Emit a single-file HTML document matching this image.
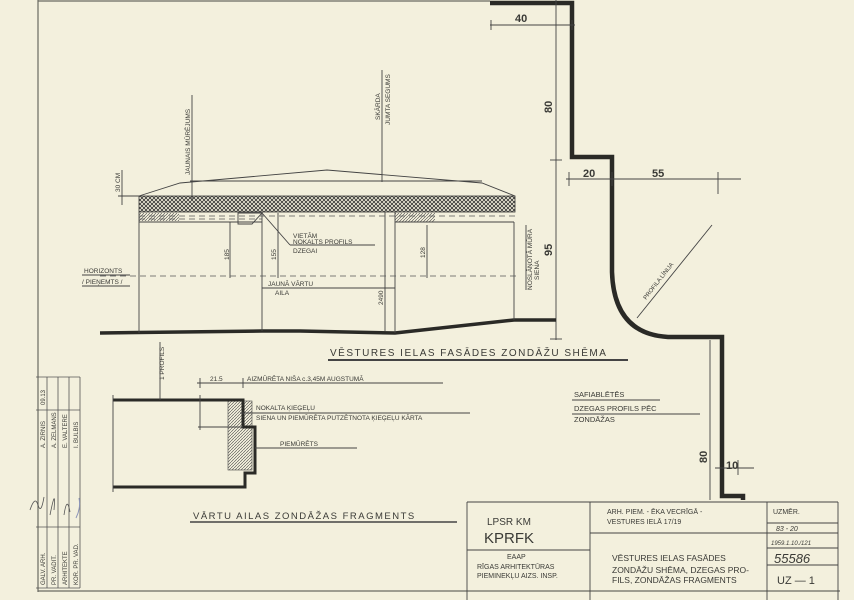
<!DOCTYPE html>
<html><head><meta charset="utf-8"><style>
html,body{margin:0;padding:0;background:#f3f0dd;}
svg{display:block}
text{font-family:"Liberation Sans",sans-serif;fill:#3a3a36;}
</style></head><body>
<svg width="854" height="600" viewBox="0 0 854 600" xmlns="http://www.w3.org/2000/svg">
<defs>
<pattern id="xh" width="4" height="4" patternUnits="userSpaceOnUse">
<path d="M0,0 L4,4 M4,0 L0,4" stroke="#333" stroke-width="0.8"/>
</pattern>
<pattern id="dh" width="3" height="3" patternUnits="userSpaceOnUse">
<path d="M0,3 L3,0" stroke="#444" stroke-width="0.6"/>
</pattern>
</defs>
<rect width="854" height="600" fill="#f3f0dd"/>
<!-- frame -->
<g stroke="#6a6a62" stroke-width="1.2" fill="none">
<line x1="38" y1="0" x2="38" y2="592"/>
<line x1="38" y1="1" x2="490" y2="1"/>
<line x1="38" y1="591" x2="840" y2="591"/>
</g>

<!-- big profile -->
<path d="M490,3 L572,3 L572,157 L612,157 L612,272 Q614,334 668,337 L722,337 L722,496 L743,496 L743,500" fill="none" stroke="#2a2a26" stroke-width="4.5"/>
<g stroke="#444" stroke-width="0.9" fill="none">
<line x1="490" y1="25" x2="575" y2="25"/><line x1="491" y1="20" x2="491" y2="30"/><line x1="572" y1="20" x2="572" y2="30"/>
<line x1="556" y1="0" x2="556" y2="340"/>
<line x1="550" y1="160" x2="562" y2="160"/><line x1="550" y1="339" x2="562" y2="339"/>
<line x1="566" y1="179" x2="741" y2="179"/><line x1="569" y1="172" x2="569" y2="186"/><line x1="612" y1="172" x2="612" y2="186"/><line x1="718" y1="172" x2="718" y2="194"/>
<line x1="637" y1="318" x2="712" y2="225"/>
<line x1="710" y1="340" x2="710" y2="500"/>
<line x1="715" y1="468" x2="754" y2="468"/><line x1="738" y1="460" x2="738" y2="475"/>
</g>
<g font-weight="bold" font-size="11">
<text x="515" y="22" fill="#2a2a26">40</text>
<text x="552" y="113" transform="rotate(-90 552 113)" fill="#2a2a26">80</text>
<text x="552" y="256" transform="rotate(-90 552 256)" fill="#2a2a26">95</text>
<text x="583" y="177" fill="#2a2a26">20</text>
<text x="652" y="177" fill="#2a2a26">55</text>
<text x="707" y="463" transform="rotate(-90 707 463)" fill="#2a2a26">80</text>
<text x="726" y="469" fill="#2a2a26">10</text>
</g>
<text x="646" y="300" font-size="6" transform="rotate(-52 646 300)">PROFILA LĪNIJA</text>
<g font-size="7.5">
<text x="574" y="397">SAFIABLĒTĒS</text>
<text x="574" y="411">DZEGAS PROFILS PĒC</text>
<text x="574" y="422">ZONDĀŽAS</text>
</g>
<g stroke="#444" stroke-width="0.9"><line x1="572" y1="400" x2="660" y2="400"/><line x1="572" y1="414" x2="700" y2="414"/></g>

<!-- elevation -->
<path d="M100,333 L262,331 L300,331 L395,333 L514,320 L556,320" fill="none" stroke="#2a2a26" stroke-width="3.5"/>
<rect x="139" y="196" width="376" height="16" fill="url(#xh)" stroke="#333" stroke-width="0.8"/>
<g stroke="#444" stroke-width="0.9" fill="none">
<path d="M139,196 L180,183 L327,170 L482,183 L515,196"/>
<line x1="190" y1="181" x2="482" y2="181"/>
<line x1="139" y1="212" x2="139" y2="333"/>
<line x1="262" y1="213" x2="262" y2="331"/>
<line x1="385" y1="212" x2="385" y2="331"/>
<line x1="395" y1="212" x2="395" y2="333"/>
<line x1="514" y1="222" x2="514" y2="320"/>
<line x1="139" y1="222" x2="262" y2="222"/>
<line x1="395" y1="222" x2="514" y2="222"/>
<path d="M238,213 L262,213 L252,224 L238,224 Z"/>
<line x1="262" y1="213" x2="290" y2="245"/><line x1="290" y1="245" x2="375" y2="245"/>
<line x1="192" y1="95" x2="192" y2="200"/>
<line x1="382" y1="70" x2="382" y2="182"/>
<line x1="122" y1="170" x2="122" y2="205"/><line x1="118" y1="196" x2="140" y2="196"/>
<line x1="230" y1="222" x2="230" y2="278"/>
<line x1="278" y1="213" x2="278" y2="278"/>
<line x1="427" y1="225" x2="427" y2="278"/>
<line x1="262" y1="288" x2="395" y2="288"/>
<line x1="526" y1="225" x2="526" y2="290"/>
<line x1="82" y1="286" x2="130" y2="286"/>
<line x1="82" y1="275" x2="130" y2="275"/>
</g>
<g stroke="#555" stroke-width="0.7" stroke-dasharray="6,4" fill="none">
<line x1="100" y1="276" x2="520" y2="276"/>
<line x1="139" y1="216" x2="515" y2="216"/>
<line x1="139" y1="219" x2="262" y2="219"/>
</g>
<rect x="395" y="213" width="40" height="9" fill="url(#dh)"/>
<rect x="139" y="213" width="40" height="8" fill="url(#dh)"/>
<g font-size="6.5">
<text x="190" y="175" transform="rotate(-90 190 175)">JAUNAIS MŪRĒJUMS</text>
<text x="380" y="120" transform="rotate(-90 380 120)">SKĀRDA</text>
<text x="390" y="125" transform="rotate(-90 390 125)">JUMTA SEGUMS</text>
<text x="120" y="192" transform="rotate(-90 120 192)">30 CM</text>
<text x="229" y="260" transform="rotate(-90 229 260)">185</text>
<text x="276" y="260" transform="rotate(-90 276 260)">155</text>
<text x="425" y="258" transform="rotate(-90 425 258)">128</text>
<text x="383" y="305" transform="rotate(-90 383 305)">2490</text>
<text x="293" y="238">VIETĀM</text>
<text x="293" y="244">NOKALTS PROFILS</text>
<text x="293" y="253">DZEGAI</text>
<text x="268" y="286">JAUNĀ VĀRTU</text>
<text x="275" y="295">AILA</text>
<text x="84" y="273">HORIZONTS</text>
<text x="82" y="284">/ PIEŅEMTS /</text>
<text x="532" y="290" transform="rotate(-90 532 290)">NOSLĀŅOTĀ MŪRA</text>
<text x="539" y="280" transform="rotate(-90 539 280)">SIENA</text>
</g>
<text x="330" y="356" font-size="10" letter-spacing="1.5">VĒSTURES IELAS FASĀDES ZONDĀŽU SHĒMA</text>
<line x1="328" y1="360" x2="628" y2="360" stroke="#444" stroke-width="2"/>

<!-- fragment -->
<rect x="228" y="401" width="24" height="69" fill="url(#dh)" stroke="#444" stroke-width="0.6"/>
<path d="M113,400 L243,400 L243,427 L255,427 L255,473 L245,473 L245,487 L113,487" fill="none" stroke="#2a2a26" stroke-width="3"/>
<g stroke="#444" stroke-width="0.9" fill="none">
<line x1="113" y1="395" x2="113" y2="492"/>
<line x1="160" y1="342" x2="160" y2="400"/>
<line x1="197" y1="383" x2="443" y2="383"/><line x1="200" y1="378" x2="200" y2="388"/><line x1="243" y1="378" x2="243" y2="388"/>
<line x1="200" y1="395" x2="200" y2="430"/><line x1="198" y1="427" x2="243" y2="427"/>
<line x1="240" y1="413" x2="470" y2="413"/>
<line x1="255" y1="448" x2="357" y2="448"/>
</g>
<g font-size="6.5">
<text x="164" y="380" transform="rotate(-90 164 380)">1 PROFILS</text>
<text x="210" y="381">21.5</text>
<text x="247" y="381">AIZMŪRĒTA NIŠA c.3,45M AUGSTUMĀ</text>
<text x="256" y="410">NOKALTA ĶIEĢEĻU</text>
<text x="256" y="420">SIENA UN PIEMŪRĒTA PUTZĒTNOTA ĶIEĢEĻU KĀRTA</text>
<text x="280" y="446">PIEMŪRĒTS</text>
</g>
<text x="193" y="519" font-size="9.5" letter-spacing="1.5">VĀRTU AILAS ZONDĀŽAS FRAGMENTS</text>
<line x1="190" y1="522" x2="457" y2="522" stroke="#444" stroke-width="1.5"/>

<!-- left table -->
<g stroke="#555" stroke-width="0.8" fill="none">
<line x1="36" y1="377" x2="80" y2="377"/>
<line x1="36" y1="588" x2="80" y2="588"/>
<line x1="47" y1="377" x2="47" y2="588"/>
<line x1="58" y1="377" x2="58" y2="588"/>
<line x1="69" y1="377" x2="69" y2="588"/>
<line x1="80" y1="377" x2="80" y2="588"/>
<line x1="36" y1="410" x2="80" y2="410"/>
<line x1="36" y1="527" x2="80" y2="527"/>
</g>
<g font-size="6">
<text x="45" y="585" transform="rotate(-90 45 585)">GALV. ARH.</text>
<text x="56" y="585" transform="rotate(-90 56 585)">PR. VADIT.</text>
<text x="67" y="585" transform="rotate(-90 67 585)">ARHITEKTE</text>
<text x="78" y="585" transform="rotate(-90 78 585)">KOR. PR. VAD.</text>
<text x="45" y="448" transform="rotate(-90 45 448)">A. ZIRNIS</text>
<text x="56" y="448" transform="rotate(-90 56 448)">A. ZELMANS</text>
<text x="67" y="448" transform="rotate(-90 67 448)">E. VALTERE</text>
<text x="78" y="448" transform="rotate(-90 78 448)">I. BULBIS</text>
<text x="45" y="405" transform="rotate(-90 45 405)">09.13</text>
</g>
<path d="M30,510 q5,-15 8,-5 q3,10 6,-8 M50,515 q6,-30 4,-5 M64,515 q3,-20 6,-3" stroke="#555" stroke-width="0.8" fill="none"/>
<path d="M76,518 q5,-10 3,-20" stroke="#8b93b8" stroke-width="1" fill="none"/>

<!-- title block -->
<g stroke="#444" stroke-width="0.9" fill="none">
<line x1="467" y1="502" x2="838" y2="502"/>
<line x1="467" y1="502" x2="467" y2="600"/>
<line x1="590" y1="502" x2="590" y2="600"/>
<line x1="767" y1="502" x2="767" y2="600"/>
<line x1="838" y1="502" x2="838" y2="600"/>
<line x1="467" y1="550" x2="590" y2="550"/>
<line x1="590" y1="533" x2="838" y2="533"/>
<line x1="767" y1="523" x2="838" y2="523"/>
<line x1="767" y1="548" x2="838" y2="548"/>
<line x1="767" y1="565" x2="838" y2="565"/>
</g>
<text x="487" y="525" font-size="10">LPSR KM</text>
<text x="484" y="543" font-size="15">KPRFK</text>
<g font-size="7">
<text x="507" y="559">EAAP</text>
<text x="477" y="569">RĪGAS ARHITEKTŪRAS</text>
<text x="477" y="578">PIEMINEKĻU AIZS. INSP.</text>
<text x="607" y="514">ARH. PIEM. - ĒKA VECRĪGĀ -</text>
<text x="607" y="524">VESTURES IELĀ 17/19</text>
<text x="773" y="514">UZMĒR.</text>
<text x="776" y="531" font-style="italic">83 - 20</text>
<text x="771" y="545" font-size="6" font-style="italic">1959.1.10./121</text>
</g>
<g font-size="8.5">
<text x="612" y="561">VĒSTURES IELAS FASĀDES</text>
<text x="612" y="573">ZONDĀŽU SHĒMA, DZEGAS PRO-</text>
<text x="612" y="583">FILS, ZONDĀŽAS FRAGMENTS</text>
</g>
<text x="774" y="563" font-size="13" font-style="italic">55586</text>
<text x="777" y="584" font-size="11">UZ — 1</text>
</svg>
</body></html>
